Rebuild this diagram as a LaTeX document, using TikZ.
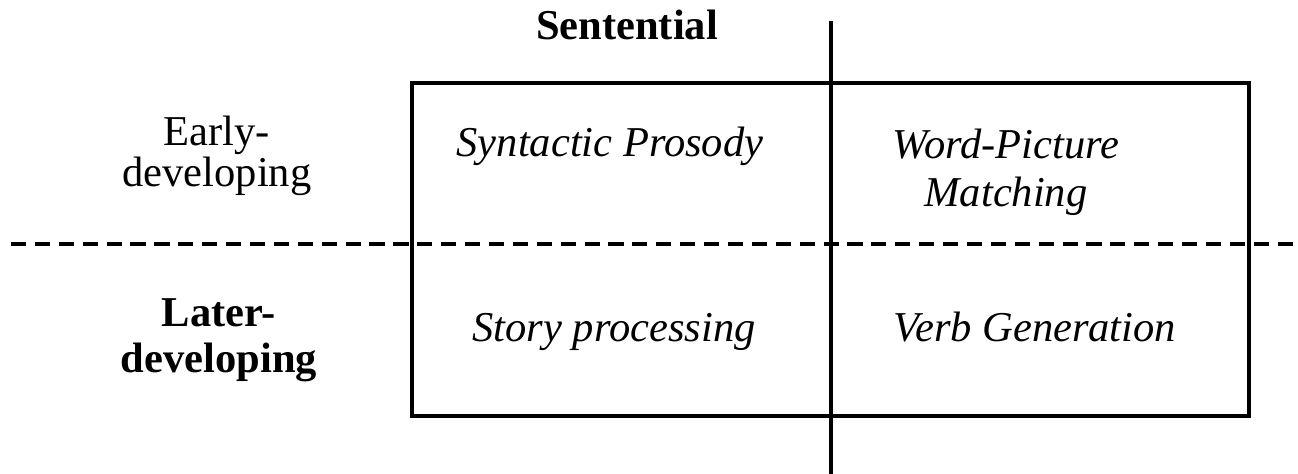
\documentclass[tikz,border=0pt]{standalone}
\usepackage{fontspec}
\setmainfont{Liberation Serif}
\usepackage{tikz}

\tikzset{
	label/.style={anchor=base, align=center, inner sep=0pt, font=\fontsize{12.1}{13.9}\selectfont},
	task/.style={label, font=\fontsize{12.1}{13.9}\selectfont\itshape},
	axis/.style={line width=1pt},
}

\begin{document}
\begin{tikzpicture}[]
	\useasboundingbox (0,0) rectangle (12.98,4.74);
	%\draw[help lines] (0,0) grid (13,5);
	\draw[axis] (4.12,0.58) rectangle (12.49,3.91);
	\draw[axis] (8.31,4.53) -- (8.31,0);
	\draw[axis, dash pattern=on 4.3pt off 2.5pt] (0.11,2.30) -- (12.98,2.30);
	% base of a two-line node sits on its last line
	\node[label, font=\fontsize{12.1}{13.9}\selectfont\bfseries] (sentential) at (6.27,4.34) {Sentential};
	\node[label, font=\fontsize{12.1}{11.9}\selectfont] (early) at (2.17,2.87) {Early-\\developing};
	\node[label, font=\fontsize{12.1}{13.1}\selectfont\bfseries] (later) at (2.19,1.01) {Later-\\developing};
	\node[task] (syntactic) at (6.10,3.17) {Syntactic Prosody};
	\node[task] (wordpic) at (10.06,2.67) {Word-Picture\\Matching};
	\node[task] (story) at (6.14,1.32) {Story processing};
	\node[task] (verbgen) at (10.35,1.32) {Verb Generation};
\end{tikzpicture}
\end{document}
